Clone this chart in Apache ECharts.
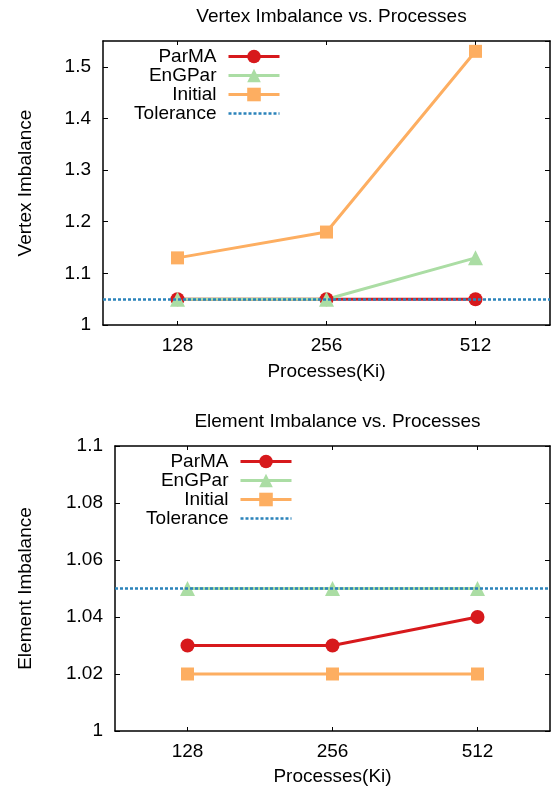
<!DOCTYPE html>
<html>
<head>
<meta charset="utf-8">
<script src="https://cdn.jsdelivr.net/npm/echarts@6/dist/echarts.min.js"></script>
<style>
  html, body { margin: 0; padding: 0; background: #fff; }
  #chart { width: 558px; height: 795px; }
</style>
</head>
<body>
<div id="chart"></div>
<script>
  // data
  const processes = ['128', '256', '512'];
  const vertexParMA = [1.05, 1.05, 1.05];
  const vertexEnGPar = [1.05, 1.05, 1.13];
  const vertexInitial = [1.13, 1.18, 1.53];
  const elementParMA = [1.03, 1.03, 1.04];
  const elementEnGPar = [1.05, 1.05, 1.05];
  const elementInitial = [1.02, 1.02, 1.02];
  const tolerance = 1.05;
  const vertexRange = [1, 1.55, 0.1];   // min, max, step
  const elementRange = [1, 1.1, 0.02];

  const FONT = "'Liberation Sans', Arial, Helvetica, sans-serif";
  const FS = 19;
  const colors = { ParMA: '#d7191c', EnGPar: '#abdda4', Initial: '#fdae61', Tolerance: '#2b83ba' };

  let myChart = echarts.init(document.getElementById('chart'), null, { renderer: 'canvas' });

  function xAxes(gridIndex, nameGap) {
    const line = { show: true, onZero: false, lineStyle: { color: '#000', width: 1.5 } };
    const tick = { show: true, inside: true, length: 4, alignWithLabel: true, lineStyle: { color: '#000', width: 1 } };
    return [{
      type: 'category', gridIndex: gridIndex, data: processes, position: 'bottom',
      boundaryGap: true,
      axisLine: line, axisTick: tick,
      axisLabel: { margin: 11, color: '#000', fontSize: FS, fontFamily: FONT },
      name: 'Processes(Ki)', nameLocation: 'middle', nameGap: nameGap,
      nameTextStyle: { color: '#000', fontSize: FS, fontFamily: FONT },
      splitLine: { show: false }
    }, {
      type: 'category', gridIndex: gridIndex, data: processes, position: 'top',
      boundaryGap: true,
      axisLine: line, axisTick: tick, axisLabel: { show: false }, splitLine: { show: false }
    }];
  }

  function yAxes(gridIndex, range, name, nameGap) {
    const line = { show: true, onZero: false, lineStyle: { color: '#000', width: 1.5 } };
    const tick = { show: true, inside: true, length: 5, lineStyle: { color: '#000', width: 1 } };
    return [{
      type: 'value', gridIndex: gridIndex, position: 'left',
      min: range[0], max: range[1], interval: range[2],
      axisLine: line, axisTick: tick,
      axisLabel: { margin: 12, color: '#000', fontSize: FS, fontFamily: FONT, showMaxLabel: range[1] === 1.1 },
      name: name, nameLocation: 'middle', nameGap: nameGap, nameRotate: 90,
      nameTextStyle: { color: '#000', fontSize: FS, fontFamily: FONT },
      splitLine: { show: false }
    }, {
      type: 'value', gridIndex: gridIndex, position: 'right',
      min: range[0], max: range[1], interval: range[2],
      axisLine: line, axisTick: tick, axisLabel: { show: false }, splitLine: { show: false }
    }];
  }

  function seriesFor(idx, parma, engpar, initial) {
    const x = idx * 2, y = idx * 2;
    return [{
      name: 'ParMA', type: 'line', xAxisIndex: x, yAxisIndex: y, data: parma,
      symbol: 'circle', symbolSize: 14,
      lineStyle: { color: colors.ParMA, width: 3 }, itemStyle: { color: colors.ParMA }
    }, {
      name: 'EnGPar', type: 'line', xAxisIndex: x, yAxisIndex: y, data: engpar,
      symbol: 'triangle', symbolSize: 15,
      lineStyle: { color: colors.EnGPar, width: 3 }, itemStyle: { color: colors.EnGPar }
    }, {
      name: 'Initial', type: 'line', xAxisIndex: x, yAxisIndex: y, data: initial,
      symbol: 'rect', symbolSize: 13,
      lineStyle: { color: colors.Initial, width: 3 }, itemStyle: { color: colors.Initial }
    }, {
      name: 'Tolerance', type: 'line', xAxisIndex: x, yAxisIndex: y, data: [],
      symbol: 'none',
      lineStyle: { color: colors.Tolerance, width: 2.5, type: [3, 2] },
      itemStyle: { color: colors.Tolerance },
      markLine: {
        silent: true, symbol: 'none', label: { show: false },
        lineStyle: { color: colors.Tolerance, width: 2.5, type: [3, 2] },
        data: [{ yAxis: tolerance }]
      }
    }];
  }

  function legendFor(top, right) {
    return {
      orient: 'vertical', align: 'right', top: top, right: right, padding: 0,
      itemGap: 0, itemWidth: 51, itemHeight: 17,
      selectedMode: false,
      textStyle: { color: '#000', fontSize: FS, fontFamily: FONT, padding: [0, 7, 0, 0] },
      data: [
        { name: 'ParMA', lineStyle: { width: 3 } },
        { name: 'EnGPar', lineStyle: { width: 3 } },
        { name: 'Initial', lineStyle: { width: 3 } },
        {
          name: 'Tolerance', lineStyle: { width: 2.5 },
          itemStyle: { color: 'rgba(0,0,0,0)', opacity: 0, borderWidth: 0 }
        }
      ]
    };
  }

  myChart.setOption({
    animation: false,
    title: [{
      text: 'Vertex Imbalance vs. Processes', left: 326.5, top: 2, textAlign: 'center',
      textStyle: { color: '#000', fontSize: FS, fontWeight: 'normal', fontFamily: FONT }
    }, {
      text: 'Element Imbalance vs. Processes', left: 332.5, top: 407, textAlign: 'center',
      textStyle: { color: '#000', fontSize: FS, fontWeight: 'normal', fontFamily: FONT }
    }],
    legend: [legendFor(47, 277), legendFor(452, 265)],
    grid: [
      { left: 103, top: 41, right: 8, height: 284 },
      { left: 115, top: 446, right: 8, height: 285 }
    ],
    xAxis: xAxes(0, 37).concat(xAxes(1, 36)),
    yAxis: yAxes(0, vertexRange, 'Vertex Imbalance', 68).concat(yAxes(1, elementRange, 'Element Imbalance', 80)),
    series: seriesFor(0, vertexParMA, vertexEnGPar, vertexInitial)
      .concat(seriesFor(1, elementParMA, elementEnGPar, elementInitial))
  });
</script>
</body>
</html>
